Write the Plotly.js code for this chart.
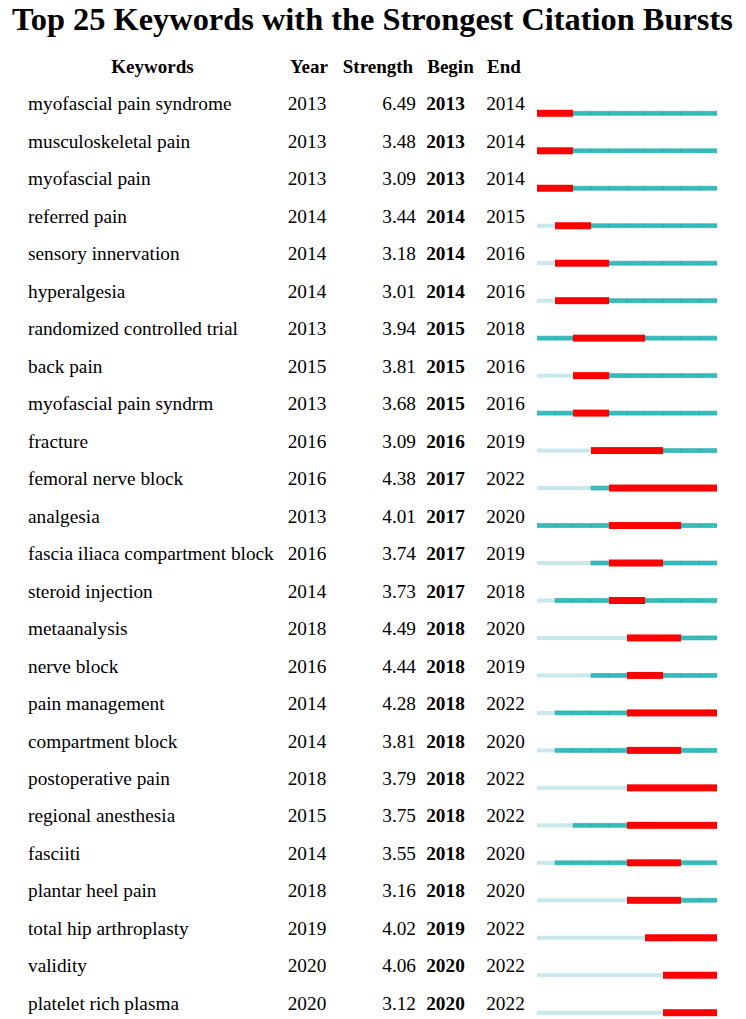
<!DOCTYPE html>
<html>
<head>
<meta charset="utf-8">
<script src="https://cdn.plot.ly/plotly-3.0.1.min.js"></script>
<style>html,body{margin:0;padding:0;background:#fff;}#chart{width:746px;height:1019px;}</style>
</head>
<body>
<div id="chart"></div>
<script>
// ---- data ----
const keywords = ["myofascial pain syndrome","musculoskeletal pain","myofascial pain","referred pain","sensory innervation","hyperalgesia","randomized controlled trial","back pain","myofascial pain syndrm","fracture","femoral nerve block","analgesia","fascia iliaca compartment block","steroid injection","metaanalysis","nerve block","pain management","compartment block","postoperative pain","regional anesthesia","fasciiti","plantar heel pain","total hip arthroplasty","validity","platelet rich plasma"];
const years = [2013,2013,2013,2014,2014,2014,2013,2015,2013,2016,2016,2013,2016,2014,2018,2016,2014,2014,2018,2015,2014,2018,2019,2020,2020];
const strengths = [6.49,3.48,3.09,3.44,3.18,3.01,3.94,3.81,3.68,3.09,4.38,4.01,3.74,3.73,4.49,4.44,4.28,3.81,3.79,3.75,3.55,3.16,4.02,4.06,3.12];
const begins = [2013,2013,2013,2014,2014,2014,2015,2015,2015,2016,2017,2017,2017,2017,2018,2018,2018,2018,2018,2018,2018,2018,2019,2020,2020];
const ends = [2014,2014,2014,2015,2016,2016,2018,2016,2016,2019,2022,2020,2019,2018,2020,2019,2022,2020,2022,2022,2020,2020,2022,2022,2022];
const timeline = [2013,2014,2015,2016,2017,2018,2019,2020,2021,2022];
const headers = ["Keywords","Year","Strength","Begin","End","2013 - 2022"];

// ---- layout params ----
const W = 746, H = 1019;
const rowPx = 37.475, firstRowPx = 113.3;
const yMin = -firstRowPx / rowPx;
const yMax = yMin + H / rowPx;
const textShift = 0.204;
const serif = "Liberation Serif, Times New Roman, serif";
const FS = 19.3;

const idx = keywords.map((k, i) => i);

// timeline cells
const cells = {light: {x: [], y: [], b: []}, teal: {x: [], y: [], b: []}, red: {x: [], y: [], b: []}};
keywords.forEach((k, i) => {
  timeline.forEach(yr => {
    let kind = yr < years[i] ? 'light' : (yr >= begins[i] && yr <= ends[i] ? 'red' : 'teal');
    cells[kind].x.push(1); cells[kind].y.push(i); cells[kind].b.push(yr);
  });
});

function barTrace(c, color, width, lineColor, lineW) {
  return {
    type: 'bar', orientation: 'h', x: c.x, y: c.y, base: c.b,
    xaxis: 'x2', yaxis: 'y', width: width,
    marker: {color: color, line: {color: lineColor, width: lineW}},
    hoverinfo: 'skip', showlegend: false
  };
}

const ty = idx.map(i => i - textShift);
function textTrace(xpos, texts, pos, bold) {
  return {
    type: 'scatter', mode: 'text', x: texts.map(() => xpos), y: ty, text: texts,
    textposition: pos, xaxis: 'x', yaxis: 'y',
    textfont: {family: serif, size: FS, color: '#000', weight: bold ? 'bold' : 'normal'},
    hoverinfo: 'skip', showlegend: false, cliponaxis: false
  };
}

const headerY = -1.2;
const headerX = [152.5, 309, 378, 450.5, 504, 625.5];

const data = [
  barTrace(cells.light, '#c8e8eb', 4 / rowPx, '#c8e8eb', 0),
  barTrace(cells.teal, '#33bdbd', 4 / rowPx, '#2aa9a9', 0.6),
  barTrace(cells.red, '#ff0000', 7 / rowPx, '#ff0000', 0),
  textTrace(28, keywords, 'middle right', false),
  textTrace(307, years.map(String), 'middle center', false),
  textTrace(416, strengths.map(v => v.toFixed(2)), 'middle left', false),
  textTrace(445.5, begins.map(String), 'middle center', true),
  textTrace(505.5, ends.map(String), 'middle center', false),
  {
    type: 'scatter', mode: 'text', x: headerX, y: headers.map(() => headerY), text: headers,
    textposition: 'middle center', xaxis: 'x', yaxis: 'y',
    textfont: {family: serif, size: 19, color: '#000', weight: 'bold'},
    hoverinfo: 'skip', showlegend: false, cliponaxis: false
  }
];

const layout = {
  width: W, height: H,
  margin: {l: 0, r: 0, t: 0, b: 0},
  paper_bgcolor: '#fff', plot_bgcolor: '#fff',
  barmode: 'overlay',
  title: {
    text: 'Top 25 Keywords with the Strongest Citation Bursts',
    font: {family: serif, size: 32.4, color: '#000', weight: 'bold'},
    x: 0.4993, xanchor: 'center', xref: 'paper',
    y: 1 - 18.5 / H, yanchor: 'middle', yref: 'container'
  },
  xaxis: {range: [0, W], domain: [0, 1], visible: false, fixedrange: true},
  xaxis2: {range: [2013, 2023], domain: [537 / W, 717 / W], anchor: 'y', visible: false, fixedrange: true},
  yaxis: {range: [yMax, yMin], visible: false, fixedrange: true},
  showlegend: false
};

Plotly.newPlot('chart', data, layout, {displayModeBar: false, staticPlot: true});
</script>
</body>
</html>
